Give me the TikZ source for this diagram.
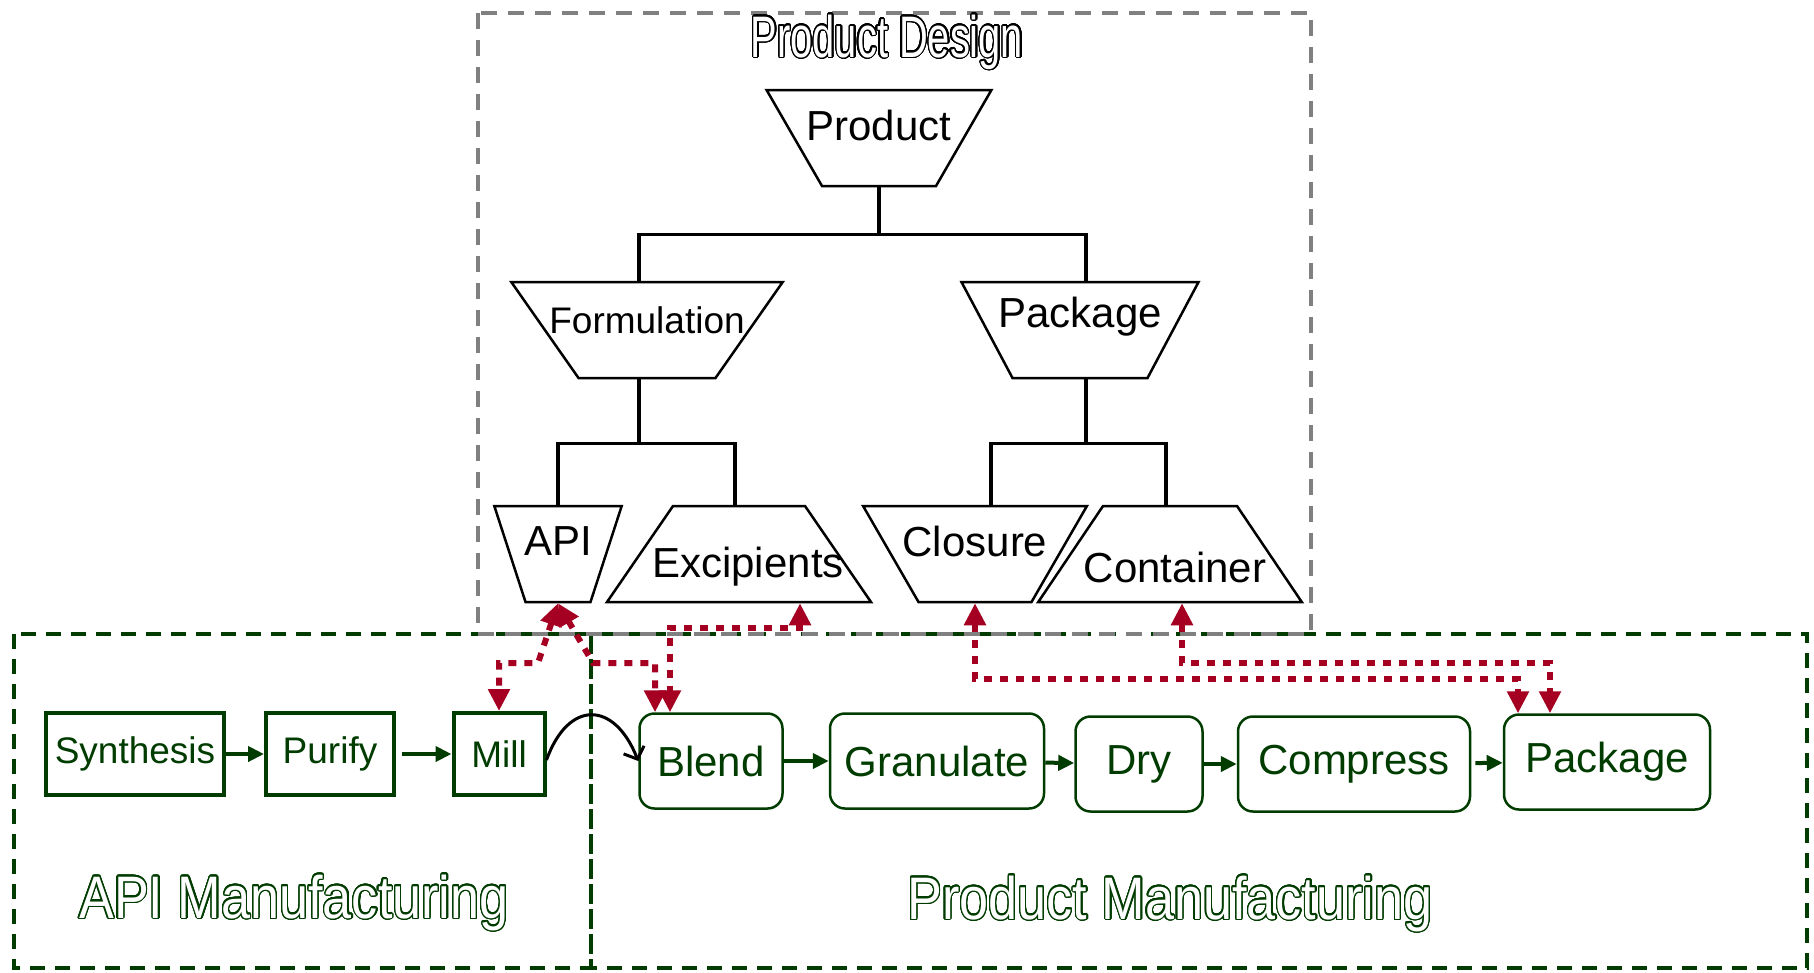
\documentclass[tikz,border=0pt]{standalone}
\usepackage{fontspec}
\setmainfont{Liberation Sans}
\newfontfamily\wordfont{Liberation Sans}[FakeStretch=0.87]
\newfontfamily\titlefont{Liberation Sans}[FakeStretch=0.68]
\usepackage{contour}
\contourlength{1.3pt}
\contournumber{32}
\usetikzlibrary{shapes.geometric,arrows.meta}

\definecolor{dkgreen}{RGB}{0,60,0}
\definecolor{linkred}{RGB}{165,0,33}
\definecolor{boxgray}{RGB}{128,128,128}

\newcommand{\hollow}[2]{\textcolor{white}{\contour{#1}{#2}}}

\begin{document}
\begin{tikzpicture}[x=1pt,y=-1pt,
  big/.style={font=\fontsize{42}{44}\selectfont},
  small/.style={font=\fontsize{37}{40}\selectfont},
  trap/.style={trapezium,draw,line width=2.5pt,inner ysep=48pt,inner xsep=#1},
  trapdn/.style={trap=#1,shape border rotate=180},
  tree/.style={line width=3.5pt},
  sbox/.style={rectangle,draw=dkgreen,text=dkgreen,line width=4pt,minimum height=82pt,small},
  rbox/.style={rectangle,rounded corners=15pt,draw=dkgreen,text=dkgreen,line width=2.5pt,minimum height=95pt,big},
  flow/.style={dkgreen,line width=4pt,-{Triangle[length=16pt,width=15pt]}},
  link/.style={linkred,line width=6pt,dash pattern=on 8pt off 8pt,{Triangle[length=22pt,width=21pt]}-{Triangle[length=22pt,width=21pt]}},
  zone/.style={dkgreen,line width=3.5pt,dash pattern=on 15pt off 10pt},
  graybox/.style={boxgray,line width=3.5pt,dash pattern=on 16pt off 11pt}]
\useasboundingbox (0,0) rectangle (1814,972);

\draw[zone] (14,634) rectangle (591,968);
\draw[zone] (591,634) rectangle (1807,968);
\draw[graybox] (478,13) rectangle (1311,634);

\path (887,57) node[anchor=base,font=\titlefont\fontsize{58.6}{60}\selectfont] (ttl) {\hollow{black}{Product Design}};
\path (294,918) node[anchor=base,font=\wordfont\fontsize{60}{62}\selectfont] (apim) {\hollow{dkgreen}{API Manufacturing}};
\path (1170,919) node[anchor=base,font=\wordfont\fontsize{60}{62}\selectfont] (prodm) {\hollow{dkgreen}{Product Manufacturing}};

\path (879,138) node[trapdn=57pt,trapezium angle=60,label={[big,yshift=13pt]center:Product}] (prod) {};
\path (647,330) node[trapdn=68.5pt,trapezium angle=55,label={[small,yshift=10pt]center:Formulation}] (form) {};
\path (1080,330) node[trapdn=67.5pt,trapezium angle=62,label={[big,yshift=13pt]center:Package}] (pkg) {};
\path (558,554) node[trapdn=32.5pt,trapezium angle=72,label={[big,yshift=13pt]center:API}] (api) {};
\path (739,554) node[trap=66pt,trapezium angle=55.5,label={[big,xshift=9pt,yshift=-13pt]center:Excipients}] (exc) {};
\path (975,554) node[trapdn=56.5pt,trapezium angle=60,label={[big,yshift=13pt]center:Closure}] (clo) {};
\path (1170,554) node[trap=67pt,trapezium angle=56,label={[big,xshift=5pt,yshift=-13pt]center:Container}] (con) {};

\draw[tree] (prod.south) -- ++(0,47) -| ([xshift=-8pt]form.north);
\draw[tree] (prod.south) -- ++(0,47) -| ([xshift=6pt]pkg.north);
\draw[tree] ([xshift=-8pt]form.south) -- ++(0,64) -| (api.north);
\draw[tree] ([xshift=-8pt]form.south) -- ++(0,64) -| ([xshift=-4pt]exc.north);
\draw[tree] ([xshift=6pt]pkg.south) -- ++(0,64) -| ([xshift=16pt]clo.north);
\draw[tree] ([xshift=6pt]pkg.south) -- ++(0,64) -| ([xshift=-4pt]con.north);

\path (135,754) node[sbox,minimum width=178pt] (syn) {Synthesis};
\path (330,754) node[sbox,minimum width=128pt] (pur) {Purify};
\path (499,754) node[sbox,minimum width=91pt] (mil) {Mill};

\path (711,761) node[rbox,minimum width=143pt] (bln) {Blend};
\path (937,761) node[rbox,minimum width=214pt] (gra) {Granulate};
\path (1139,764) node[rbox,minimum width=127pt] (dry) {Dry};
\path (1354,764) node[rbox,minimum width=232pt] (cmp) {Compress};
\path (1607,762) node[rbox,minimum width=206pt] (pak) {Package};

\draw[flow] (syn) -- (pur);
\draw[flow,shorten <=6pt] (pur) -- (mil);
\draw[flow] (bln) -- (gra);
\draw[flow] (gra) -- (dry);
\draw[flow] (dry) -- (cmp);
\draw[flow,shorten <=4pt] (cmp) -- (pak);
\draw[line width=3pt,-{Straight Barb[length=10pt,width=22pt]}] ([yshift=-6pt]mil.east) .. controls (568,700) and (614,700) .. (bln.west);

\draw[link] (api.south) -- (538,663) -| (mil.north);
\draw[link] (api.south) -- (593,663) -| ([xshift=-56pt]bln.north);
\draw[link] ([xshift=61pt]exc.south) -- ++(0,25) -| ([xshift=-41pt]bln.north);
\draw[link] (clo.south) -- ++(0,76) -| ([xshift=-89pt]pak.north);
\draw[link] ([xshift=12pt]con.south) -- ++(0,60) -| ([xshift=-57pt]pak.north);
\end{tikzpicture}
\end{document}
